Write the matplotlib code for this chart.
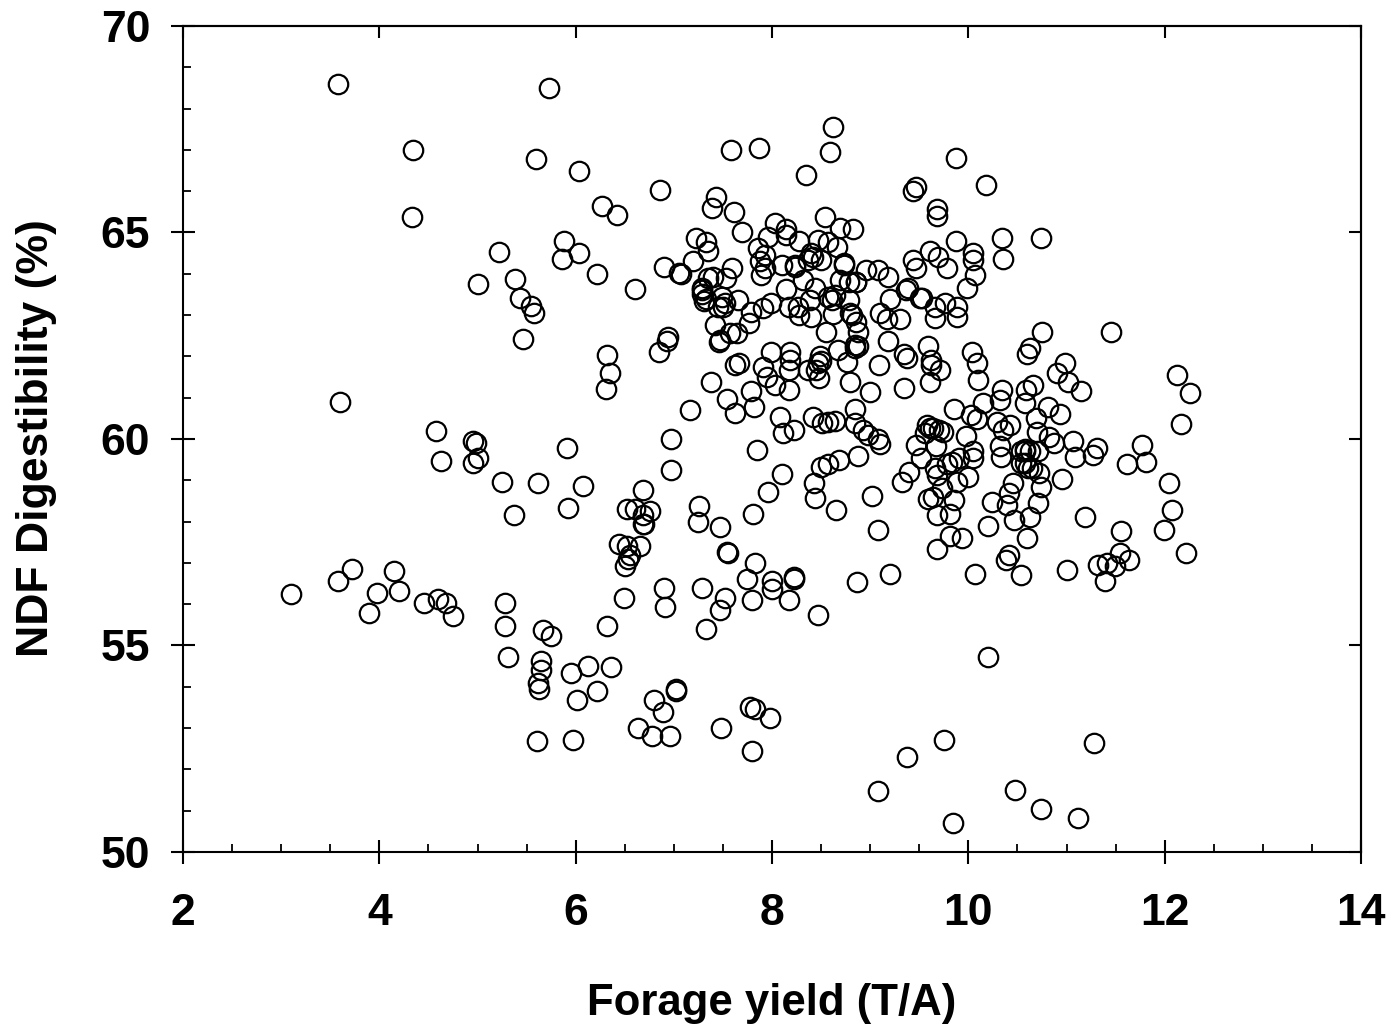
import matplotlib
matplotlib.use("Agg")
import matplotlib.pyplot as plt
from matplotlib.ticker import MultipleLocator

plt.rcParams['font.family'] = ['Liberation Sans', 'DejaVu Sans']

# yield below 7.3 T/A
x_low = [3.10,3.58,3.60,3.58,3.72,3.89,3.98,4.15,4.20,4.33,
         4.34,4.45,4.58,4.60,4.63,4.68,4.75,4.95,4.95,4.98,
         5.00,5.00,5.22,5.25,5.28,5.28,5.31,5.37,5.38,5.43,
         5.46,5.54,5.58,5.60,5.62,5.62,5.63,5.61,5.65,5.65,
         5.67,5.75,5.73,5.86,5.88,5.91,5.92,5.95,5.97,6.01,
         6.03,6.03,6.07,6.13,6.22,6.22,6.27,6.31,6.32,6.32,
         6.35,6.36,6.42,6.44,6.49,6.50,6.52,6.52,6.53,6.55,
         6.60,6.60,6.63,6.66,6.69,6.69,6.69,6.70,6.76,6.78,
         6.80,6.85,6.86,6.90,6.89,6.90,6.91,6.93,6.94,6.96,
         6.97,6.97,7.02,7.02,7.05,7.07,7.16,7.20,7.23,7.25,
         7.26,7.29,7.29,7.29,7.31,7.33,7.33,7.35,7.35,7.38]
y_low = [56.25,68.60,60.90,56.55,56.85,55.78,56.27,56.80,56.33,65.37,
         67.00,56.03,60.20,56.13,59.47,56.03,55.72,59.95,59.42,59.90,
         59.55,63.75,64.53,58.97,56.02,55.47,54.72,58.15,63.87,63.42,
         62.43,63.23,63.05,66.77,58.93,54.10,53.95,52.68,54.63,54.40,
         55.38,55.23,68.50,64.37,64.80,59.78,58.32,54.33,52.72,53.68,
         64.50,66.50,58.87,54.50,64.00,53.90,65.65,61.20,62.03,55.47,
         61.60,54.48,65.43,57.45,56.15,56.92,57.40,58.30,57.10,57.20,
         63.63,58.30,53.00,57.40,58.77,58.15,57.93,57.95,58.25,52.82,
         53.67,62.10,66.02,64.17,53.40,56.40,55.93,62.38,62.47,52.82,
         60.00,59.25,53.95,53.90,64.03,64.00,60.70,64.30,64.87,58.00,
         58.37,56.40,63.50,63.65,63.35,64.78,55.40,64.54,63.90,61.39]

# yield 7.3 to 9.3 T/A, digestibility above 60
x_mid = [7.39,7.43,7.69,7.61,8.54,8.03,8.14,8.14,7.96,8.69,
         8.83,8.27,8.47,8.57,8.66,7.86,7.93,7.88,7.93,7.89,
         8.10,8.23,8.23,8.40,8.42,8.37,8.50,8.73,8.73,8.96,
         9.08,9.18,8.86,8.86,8.69,8.78,8.32,8.14,8.44,8.57,
         8.64,8.61,8.39,8.78,8.26,8.17,8.27,8.40,7.99,7.91,
         7.79,7.77,7.65,7.59,7.49,7.40,7.45,7.42,7.64,7.57,
         7.46,7.47,7.62,7.66,7.54,7.62,7.79,7.82,7.99,7.91,
         7.95,8.03,8.18,8.18,8.17,8.17,8.49,8.50,8.47,8.45,
         8.37,8.48,8.67,8.79,8.76,8.79,8.81,8.86,8.88,8.85,
         8.85,8.88,9.09,9.18,9.10,9.17,9.30,9.20,8.85,8.42,
         8.51,8.57,8.64,8.22,8.11,8.08,8.85,8.93,8.98,9.08,
         7.58,7.87,8.35,8.59,8.62,7.53,7.50,7.33,7.29,7.52,
         8.55,9.00,8.62]
y_mid = [65.59,65.85,65.00,65.50,65.38,65.22,65.08,64.94,64.88,65.10,
         65.08,64.79,64.82,64.78,64.64,64.63,64.46,64.32,64.13,63.97,
         64.21,64.21,64.17,64.50,64.41,64.33,64.33,64.21,64.25,64.08,
         64.08,63.93,63.81,63.81,63.85,63.81,63.85,63.62,63.65,63.45,
         63.49,63.37,63.37,63.37,63.20,63.20,63.00,62.95,63.29,63.16,
         63.08,62.80,63.37,64.13,63.45,63.93,63.20,62.76,62.56,62.56,
         62.36,62.40,61.79,61.83,60.98,60.62,61.17,60.78,62.10,61.75,
         61.51,61.31,62.10,61.91,61.67,61.19,62.00,61.90,61.83,61.67,
         61.67,61.47,62.15,61.37,61.87,63.04,63.00,62.84,62.60,62.28,
         62.20,62.24,61.79,62.38,63.04,62.90,62.90,63.38,60.72,60.53,
         60.38,60.40,60.44,60.23,60.14,60.54,60.38,60.22,60.10,60.00,
         67.00,67.05,66.40,66.95,67.55,63.90,63.20,63.40,63.60,63.30,
         62.60,61.15,63.03]

# yield 7.3 to 9.3 T/A below 60, plus the low digestibility outliers
x_sub = [7.47,7.47,7.48,7.52,7.54,7.55,7.75,7.78,7.80,7.80,
         7.81,7.83,7.83,7.85,7.96,7.98,8.00,8.00,8.10,8.17,
         8.22,8.22,8.43,8.44,8.47,8.50,8.57,8.65,8.68,8.87,
         8.88,9.02,9.08,9.08,9.20,9.10,9.38,9.75,9.84,10.20,
         10.48,10.74,11.12,11.28]
y_sub = [55.85,57.87,53.00,56.15,57.27,57.25,56.60,53.52,56.10,52.45,
         58.18,53.47,57.00,59.73,58.72,53.25,56.55,56.38,59.15,56.10,
         56.60,56.67,58.93,58.57,55.73,59.33,59.40,58.28,59.50,56.53,
         59.60,58.63,57.80,51.48,56.73,59.87,52.30,52.70,50.70,54.73,
         51.50,51.05,50.82,52.63]

# yield above 9.3 T/A, digestibility above about 60.3
x_high = [9.39,9.37,9.44,9.44,9.47,9.47,9.61,9.69,9.78,9.87,
          10.05,10.05,10.07,9.99,10.34,10.35,9.51,9.53,9.66,9.76,
          9.66,9.88,9.88,9.59,9.62,9.62,9.71,9.61,10.04,10.09,
          10.10,9.85,10.15,10.03,10.09,10.34,10.32,10.29,10.42,10.35,
          9.34,10.66,10.59,10.58,11.02,11.15,12.26,12.13,12.17,10.81,
          10.93,10.69,9.68,9.68,9.87,10.18,10.74,10.75,11.45,10.60,
          10.63,10.90,10.98,9.58,9.34,9.38]
y_high = [63.65,63.60,66.00,64.33,66.10,64.13,64.54,64.40,64.13,64.80,
          64.51,64.33,63.97,63.65,64.86,64.37,63.41,63.41,63.20,63.29,
          62.92,63.20,62.96,62.25,61.91,61.79,61.67,61.39,62.10,61.83,
          61.43,60.72,60.88,60.58,60.48,61.19,60.95,60.42,60.34,60.22,
          61.23,61.31,61.19,60.88,61.39,61.17,61.12,61.55,60.36,60.78,
          60.60,60.50,65.57,65.40,66.80,66.15,64.87,62.60,62.60,62.07,
          62.20,61.60,61.85,60.34,62.07,61.97]

# yield above 9.3 T/A, digestibility below about 60.3
x_right = [10.70,10.82,10.87,11.07,11.09,11.27,11.31,11.77,11.62,11.81,
           12.04,12.07,11.99,12.22,10.95,11.19,11.56,11.54,11.64,11.49,
           11.41,11.32,11.39,11.01,10.07,10.54,10.41,10.38,10.60,10.20,
           10.47,10.63,10.24,10.39,10.41,10.46,10.71,10.74,10.72,10.61,
           10.65,10.58,10.54,10.58,10.63,10.71,10.54,10.58,10.32,10.33,
           10.05,10.05,9.98,9.90,9.83,10.00,9.88,9.85,9.81,9.68,
           9.73,9.64,9.59,9.66,9.68,9.52,9.47,9.67,9.61,9.64,
           9.74,9.56,9.40,9.32,9.81,9.94,9.68,9.78,9.70]
y_right = [60.18,60.06,59.90,59.94,59.57,59.61,59.78,59.86,59.40,59.45,
           58.93,58.28,57.80,57.25,59.03,58.12,57.77,57.23,57.06,56.93,
           56.99,56.95,56.55,56.83,56.72,56.71,57.19,57.07,57.60,57.90,
           58.04,58.10,58.48,58.39,58.69,58.94,58.44,58.83,59.17,59.29,
           59.30,59.70,59.70,59.75,59.70,59.70,59.41,59.41,59.82,59.57,
           59.70,59.53,60.07,59.53,59.45,59.09,58.97,58.52,58.18,58.16,
           58.81,58.60,58.54,59.29,59.13,59.53,59.86,59.82,60.26,60.26,
           60.18,60.14,59.21,58.97,57.64,57.60,57.34,59.40,60.22]

W, H = 1390, 1024
fig = plt.figure(figsize=(W/100, H/100), dpi=100)
ax = fig.add_axes([183/W, 1-852/H, (1361-183)/W, (852-26)/H])
for xs, ys in [(x_low, y_low), (x_mid, y_mid), (x_sub, y_sub), (x_high, y_high), (x_right, y_right)]:
    ax.plot(xs, ys, 'o', mfc='none', mec='black', ms=14, mew=1.6, clip_on=False)
ax.set_xlim(2, 14)
ax.set_ylim(50, 70)
ax.xaxis.set_major_locator(MultipleLocator(2))
ax.xaxis.set_minor_locator(MultipleLocator(0.5))
ax.yaxis.set_major_locator(MultipleLocator(5))
ax.yaxis.set_minor_locator(MultipleLocator(1))
ax.tick_params(which='major', direction='inout', length=17.3, width=1.5, labelsize=32)
ax.tick_params(axis='x', which='major', pad=21)
ax.tick_params(axis='y', which='major', pad=15)
ax.tick_params(which='minor', direction='in', length=6, width=1.3)
for s in ax.spines.values():
    s.set_linewidth(1.5)
for l in ax.get_xticklabels()+ax.get_yticklabels():
    l.set_fontweight('bold')

# top and right edges carry short inward major ticks only
top = ax.secondary_xaxis('top')
top.xaxis.set_major_locator(MultipleLocator(2))
top.tick_params(direction='in', length=8.6, width=1.5, labeltop=False)
top.spines['top'].set_linewidth(1.5)
right = ax.secondary_yaxis('right')
right.yaxis.set_major_locator(MultipleLocator(5))
right.tick_params(direction='in', length=8.6, width=1.5, labelright=False)
right.spines['right'].set_linewidth(1.5)

fig.text(772/W, 1-1003/H, 'Forage yield (T/A)', fontsize=31.5, fontweight='bold', ha='center', va='center')
fig.text(37/W, 1-438/H, 'NDF Digestibility (%)', fontsize=32, fontweight='bold', ha='center', va='center', rotation=90)
fig.savefig('out.png', dpi=100)
